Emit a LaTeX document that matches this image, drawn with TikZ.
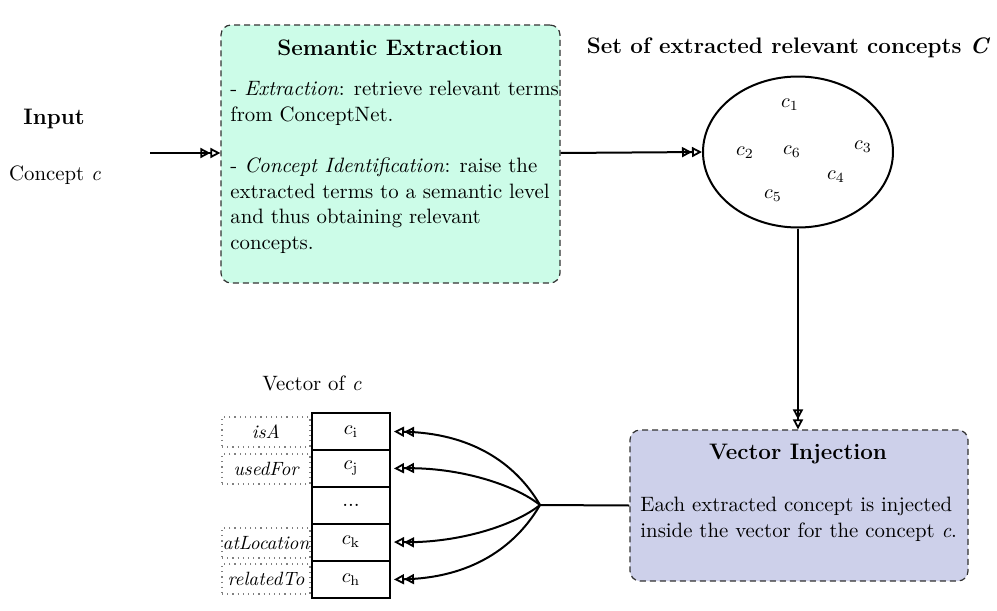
\documentclass[tikz,border=0pt]{standalone}
\usetikzlibrary{arrows.meta,shapes.geometric}
\definecolor{mint}{HTML}{CCFCE8}
\definecolor{lav}{HTML}{CDD0EA}
\definecolor{bord}{HTML}{333333}
\begin{document}
\begin{tikzpicture}[x=0.5pt,y=-0.5pt,
  font=\fontsize{10.4}{12.8}\selectfont,
  dbl/.style={line width=1pt,-{Triangle[open,length=5pt,width=5pt,line width=0.9pt]Triangle[open,length=5pt,width=5pt,line width=0.9pt]}},
  procbox/.style={draw=bord,dash pattern=on 3pt off 2pt,line width=0.6pt,rounded corners=5pt,inner sep=0pt},
  cell/.style={draw,line width=1pt,minimum width=39pt,minimum height=18.5pt,inner sep=0pt},
  lab/.style={draw=gray,dotted,line width=0.6pt,minimum width=44pt,minimum height=15pt,inner sep=0pt,font=\fontsize{9.6}{12}\selectfont\itshape},
  ttl/.style={font=\fontsize{11.2}{13}\selectfont\bfseries,inner sep=0pt}]
\useasboundingbox (0,0) rectangle (997,611);

% Input
\node[ttl] (inp) at (54,119) {Input};
\node[inner sep=0pt] (cpt) at (55,175) {Concept \textit{c}};
\coordinate (inS) at (150,153);

% Semantic extraction box
\node[procbox,fill=mint,minimum width=169.5pt,minimum height=129pt] (sem) at (390.5,154) {};
\node[ttl] (semt) at (390,48) {Semantic Extraction};
\node[anchor=north west,inner sep=0pt,align=left] (semb) at (230,81)
  {- \textit{Extraction}: retrieve relevant terms\\
   from ConceptNet.\\[12.8pt]
   - \textit{Concept Identification}: raise the\\
   extracted terms to a semantic level\\
   and thus obtaining relevant\\
   concepts.};

% Set of concepts
\node[ttl] (sett) at (788.5,48) {Set of extracted relevant concepts \textit{C}};
\node[draw,ellipse,line width=1pt,minimum width=95pt,minimum height=75.5pt,inner sep=0pt] (ell) at (798,152) {};
\node (c1) at (790,105) {$c_1$};
\node (c2) at (745,153) {$c_2$};
\node (c6) at (792,152) {$c_6$};
\node (c3) at (863,147) {$c_3$};
\node (c4) at (836,177) {$c_4$};
\node (c5) at (773,196) {$c_5$};

% Vector injection box
\node[procbox,fill=lav,minimum width=169pt,minimum height=75.5pt] (vi) at (799,505.5) {};
\node[ttl] (vit) at (798,454) {Vector Injection};
\node[anchor=west,inner sep=0pt,align=left] (vib) at (640,519)
  {Each extracted concept is injected\\
   inside the vector for the concept \textit{c}.};

% Vector
\node[inner sep=0pt] (vec) at (312,383) {Vector of \textit{c}};
\node[cell] (ci) at (351,431.5) {$c_{\mathrm{i}}$};
\node[cell] (cj) at (351,468.5) {$c_{\mathrm{j}}$};
\node[cell] (cd) at (351,505) {...};
\node[cell] (ck) at (351,542) {$c_{\mathrm{k}}$};
\node[cell] (ch) at (351,579.5) {$c_{\mathrm{h}}$};
\node[lab] (li) at (266,432) {isA};
\node[lab] (lj) at (266,469) {usedFor};
\node[lab] (lk) at (266,543) {atLocation};
\node[lab] (lh) at (266,579) {relatedTo};

% Connectors
\draw[dbl] (inS) -- (sem.west |- inS);
\draw[dbl] (sem.east |- inS) -- (ell.west);
\draw[dbl] (ell.south) -- (vi.north -| ell.south);
\coordinate (br) at (540,505);
\draw[line width=1pt] (vi.west) -- (br);
\draw[dbl,shorten >=1.5pt] (br) .. controls (515,462) and (470,433) .. (ci.east);
\draw[dbl,shorten >=1.5pt] (br) .. controls (515,485) and (460,467) .. (cj.east);
\draw[dbl,shorten >=1.5pt] (br) .. controls (515,525) and (460,543) .. (ck.east);
\draw[dbl,shorten >=1.5pt] (br) .. controls (515,548) and (470,578) .. (ch.east);
\end{tikzpicture}
\end{document}
